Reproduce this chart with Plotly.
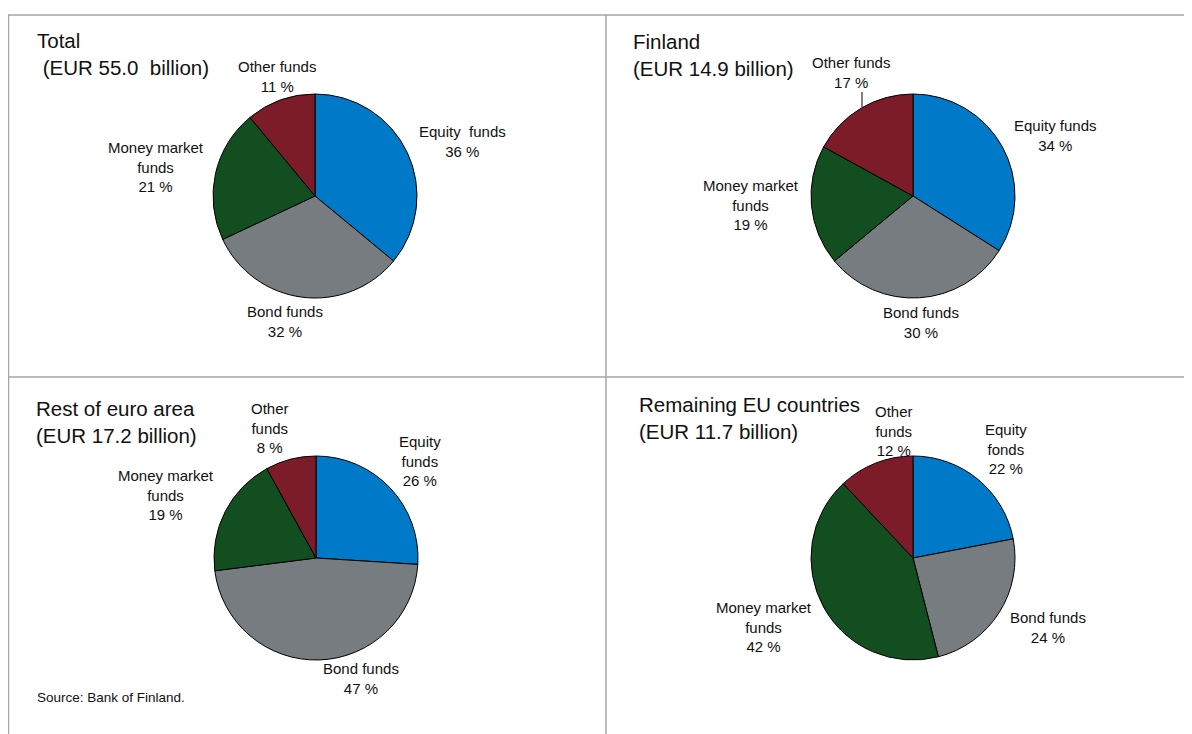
import plotly.graph_objects as go

# Investment fund holdings by fund type, % of total
categories = ["Equity funds", "Bond funds", "Money market funds", "Other funds"]
colors = ["#0079C8", "#777C80", "#134E21", "#7C1C29"]

panel_names = ["Total", "Finland", "Rest of euro area", "Remaining EU countries"]
panel_totals_bn = ["55.0 ", "14.9", "17.2", "11.7"]

total_pct = [36, 32, 21, 11]
finland_pct = [34, 30, 19, 17]
rest_euro_pct = [26, 47, 19, 8]
remaining_eu_pct = [22, 24, 42, 12]

# label wording as printed in each panel
total_labels = ["Equity  funds", "Bond funds", "Money market<br>funds", "Other funds"]
finland_labels = ["Equity funds", "Bond funds", "Money market<br>funds", "Other funds"]
rest_euro_labels = ["Equity<br>funds", "Bond funds", "Money market<br>funds", "Other<br>funds"]
remaining_eu_labels = ["Equity<br>fonds", "Bond funds", "Money market<br>funds", "Other<br>funds"]

source_text = "Source: Bank of Finland."

# page body adds an 8px margin, so the figure is a bit smaller than the window
OFF = 8
W, H = 1192 - OFF, 734 - OFF
FONT = "Liberation Sans, Arial, sans-serif"


def px_x(x):
    return (x - OFF) / W


def px_y(y):
    return 1 - (y - OFF) / H


panels = [
    dict(values=total_pct, labels=total_labels, center=(315, 196),
         title_xy=(35, 54), title_fmt="{name}<br> (EUR {bn} billion)",
         label_xy=[(462, 141), (285, 321), (156, 167), (277, 76)]),
    dict(values=finland_pct, labels=finland_labels, center=(913, 196),
         title_xy=(631, 55), title_fmt="{name}<br>(EUR {bn} billion)",
         label_xy=[(1055, 135), (921, 322), (751, 205), (851, 73)]),
    dict(values=rest_euro_pct, labels=rest_euro_labels, center=(316, 558),
         title_xy=(34, 422), title_fmt="{name}<br>(EUR {bn} billion)",
         label_xy=[(420, 461), (361, 678), (166, 495), (270, 428)]),
    dict(values=remaining_eu_pct, labels=remaining_eu_labels, center=(913, 558),
         title_xy=(637, 418), title_fmt="{name}<br>(EUR {bn} billion)",
         label_xy=[(1006, 449), (1048, 627), (764, 627), (894, 431)]),
]

R = 102  # pie radius in px

fig = go.Figure()
annotations = []

for i, p in enumerate(panels):
    cx, cy = p["center"]
    fig.add_trace(go.Pie(
        values=p["values"],
        labels=categories,
        marker=dict(colors=colors, line=dict(color="#000000", width=1)),
        sort=False,
        direction="clockwise",
        rotation=0,
        textinfo="none",
        hoverinfo="label+percent",
        showlegend=False,
        domain=dict(x=[px_x(cx - R), px_x(cx + R)], y=[px_y(cy + R), px_y(cy - R)]),
    ))
    tx, ty = p["title_xy"]
    annotations.append(dict(
        text=p["title_fmt"].format(name=panel_names[i], bn=panel_totals_bn[i]),
        x=px_x(tx), y=px_y(ty), xref="paper", yref="paper",
        xanchor="left", yanchor="middle", align="left", showarrow=False,
        font=dict(size=20.5, color="#111111", family=FONT),
    ))
    for lab, val, (lx, ly) in zip(p["labels"], p["values"], p["label_xy"]):
        annotations.append(dict(
            text=f"{lab}<br>{val} %",
            x=px_x(lx), y=px_y(ly), xref="paper", yref="paper",
            xanchor="center", yanchor="middle", align="center", showarrow=False,
            font=dict(size=15, color="#111111", family=FONT),
        ))

annotations.append(dict(
    text=source_text, x=px_x(35), y=px_y(697), xref="paper", yref="paper",
    xanchor="left", yanchor="middle", showarrow=False,
    font=dict(size=13.5, color="#111111", family=FONT),
))

grid = dict(color="#A6A6A6", width=1.5)
shapes = [
    dict(type="line", xref="paper", yref="paper", x0=px_x(8), x1=1, y0=px_y(15), y1=px_y(15), line=grid),
    dict(type="line", xref="paper", yref="paper", x0=px_x(8.5), x1=px_x(8.5), y0=px_y(15), y1=0, line=grid),
    dict(type="line", xref="paper", yref="paper", x0=px_x(606), x1=px_x(606), y0=px_y(15), y1=0, line=grid),
    dict(type="line", xref="paper", yref="paper", x0=px_x(8), x1=1, y0=px_y(377), y1=px_y(377), line=grid),
    # leader line for Finland "Other funds"
    dict(type="line", xref="paper", yref="paper", x0=px_x(862), x1=px_x(862), y0=px_y(92), y1=px_y(107),
         line=dict(color="#000000", width=1)),
]

fig.update_layout(
    width=W, height=H,
    margin=dict(l=0, r=0, t=0, b=0),
    paper_bgcolor="white",
    plot_bgcolor="white",
    font=dict(family=FONT, color="#111111"),
    annotations=annotations,
    shapes=shapes,
)

fig.write_html("out.html")
